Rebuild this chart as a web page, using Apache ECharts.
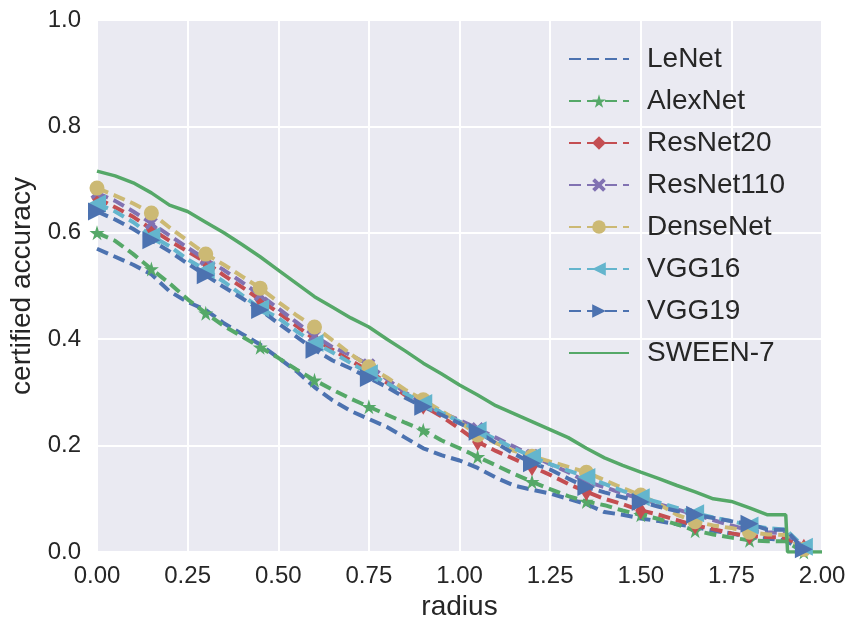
<!DOCTYPE html>
<html>
<head>
<meta charset="utf-8">
<script src="https://cdn.jsdelivr.net/npm/echarts@6/dist/echarts.min.js"></script>
<style>html,body{margin:0;padding:0;background:#fff}#c{width:853px;height:622px}</style>
</head>
<body>
<div id="c"></div>
<script>
// radius grid shared by the dashed (model) curves
var radius = [0,0.05,0.1,0.15,0.2,0.25,0.3,0.35,0.4,0.45,0.5,0.55,0.6,0.65,0.7,0.75,0.8,0.85,0.9,0.95,1.0,1.05,1.1,1.15,1.2,1.25,1.3,1.35,1.4,1.45,1.5,1.55,1.6,1.65,1.7,1.75,1.8,1.85,1.9,1.95];
var lenet    = [0.57,0.555,0.54,0.522,0.49,0.47,0.455,0.43,0.41,0.39,0.365,0.34,0.31,0.285,0.265,0.25,0.235,0.215,0.195,0.182,0.172,0.158,0.14,0.125,0.117,0.11,0.1,0.09,0.075,0.07,0.063,0.058,0.052,0.047,0.04,0.035,0.028,0.025,0.022,0.0];
var alexnet  = [0.60,0.585,0.56,0.532,0.505,0.475,0.449,0.425,0.405,0.385,0.365,0.343,0.323,0.305,0.288,0.273,0.258,0.243,0.229,0.21,0.195,0.179,0.163,0.147,0.132,0.118,0.105,0.095,0.088,0.078,0.07,0.062,0.052,0.04,0.033,0.027,0.022,0.02,0.02,0.0];
var resnet20 = [0.665,0.648,0.63,0.607,0.585,0.565,0.545,0.52,0.498,0.474,0.45,0.425,0.40,0.38,0.36,0.34,0.318,0.295,0.275,0.255,0.232,0.207,0.19,0.175,0.16,0.145,0.128,0.113,0.1,0.09,0.078,0.07,0.06,0.05,0.043,0.035,0.03,0.028,0.027,0.008];
var resnet110= [0.675,0.66,0.64,0.618,0.595,0.572,0.55,0.53,0.507,0.483,0.458,0.432,0.406,0.385,0.37,0.352,0.325,0.30,0.28,0.262,0.248,0.232,0.215,0.198,0.182,0.165,0.15,0.132,0.122,0.11,0.1,0.09,0.08,0.07,0.06,0.05,0.04,0.037,0.035,0.008];
var densenet = [0.684,0.67,0.655,0.637,0.61,0.585,0.56,0.54,0.518,0.496,0.47,0.445,0.423,0.398,0.372,0.348,0.328,0.305,0.286,0.265,0.245,0.22,0.205,0.19,0.18,0.17,0.16,0.15,0.135,0.12,0.107,0.09,0.07,0.057,0.05,0.045,0.037,0.033,0.032,0.005];
var vgg16    = [0.655,0.64,0.62,0.594,0.575,0.55,0.53,0.508,0.483,0.458,0.44,0.415,0.393,0.375,0.355,0.336,0.317,0.298,0.28,0.262,0.245,0.229,0.212,0.195,0.179,0.165,0.153,0.141,0.128,0.115,0.103,0.093,0.083,0.073,0.065,0.058,0.05,0.045,0.042,0.01];
var vgg19    = [0.64,0.625,0.607,0.586,0.565,0.542,0.52,0.498,0.477,0.455,0.43,0.405,0.38,0.36,0.345,0.327,0.31,0.29,0.273,0.258,0.242,0.226,0.205,0.185,0.167,0.155,0.138,0.122,0.112,0.103,0.094,0.085,0.077,0.07,0.064,0.058,0.053,0.042,0.042,0.005];
// SWEEN-7 curve has its own radius grid (sharp drop near 1.9)
var sweenRadius = [0,0.05,0.1,0.15,0.2,0.25,0.3,0.35,0.4,0.45,0.5,0.55,0.6,0.65,0.7,0.75,0.8,0.85,0.9,0.95,1.0,1.05,1.1,1.15,1.2,1.25,1.3,1.35,1.4,1.45,1.5,1.55,1.6,1.65,1.7,1.75,1.8,1.85,1.9,1.905,1.95,2.0];
var sween7 = [0.716,0.707,0.694,0.675,0.652,0.64,0.62,0.60,0.578,0.555,0.53,0.505,0.48,0.46,0.44,0.423,0.40,0.378,0.355,0.335,0.314,0.295,0.275,0.26,0.245,0.23,0.215,0.195,0.177,0.163,0.15,0.138,0.125,0.113,0.10,0.095,0.083,0.07,0.07,0.0,0.0,0.0];

var seriesNames = ['LeNet','AlexNet','ResNet20','ResNet110','DenseNet','VGG16','VGG19','SWEEN-7'];

var STAR = 'path://M50,0 L61,35 L98,35 L68,57 L79,91 L50,70 L21,91 L32,57 L2,35 L39,35 Z';
var XMARK = 'path://M0,20 L20,0 L50,30 L80,0 L100,20 L70,50 L100,80 L80,100 L50,70 L20,100 L0,80 L30,50 Z';

function pts(xs, ys, every) {
  return xs.map(function (x, i) {
    var item = { value: [x, ys[i]] };
    if (!every || i % every !== 0) item.symbol = 'none';
    return item;
  });
}
function dashed(name, ys, color, symbol, size, rotate) {
  return {
    name: name, type: 'line', data: pts(radius, ys, symbol === 'none' ? 0 : 3),
    symbol: symbol, symbolSize: size, symbolRotate: rotate || 0,
    showSymbol: symbol !== 'none', showAllSymbol: true,
    lineStyle: { color: color, width: 4, type: [12, 6] },
    itemStyle: { color: color, borderWidth: 0 },
    emphasis: { disabled: true }, animation: false
  };
}
var font = 'Liberation Sans, Arial, sans-serif';
var txt = '#262626';
var chart = echarts.init(document.getElementById('c'));
chart.setOption({
  backgroundColor: '#ffffff',
  animation: false,
  grid: { left: 97, right: 31, top: 20, bottom: 70, show: true, backgroundColor: '#EAEAF2', borderWidth: 0, containLabel: false, outerBoundsMode: 'none' },
  xAxis: {
    type: 'value', min: 0, max: 2, interval: 0.25,
    name: 'radius', nameLocation: 'middle', nameGap: 41,
    nameTextStyle: { fontSize: 28, color: txt, fontFamily: font },
    axisLine: { show: false }, axisTick: { show: false },
    axisLabel: { fontSize: 24, color: txt, fontFamily: font, margin: 12, formatter: function (v) { return v.toFixed(2); } },
    splitLine: { show: true, lineStyle: { color: '#ffffff', width: 2 } }
  },
  yAxis: {
    type: 'value', min: 0, max: 1, interval: 0.2,
    name: 'certified accuracy', nameLocation: 'middle', nameGap: 55,
    nameTextStyle: { fontSize: 28, color: txt, fontFamily: font },
    axisLine: { show: false }, axisTick: { show: false },
    axisLabel: { fontSize: 24, color: txt, fontFamily: font, margin: 16, formatter: function (v) { return v.toFixed(1); } },
    splitLine: { show: true, lineStyle: { color: '#ffffff', width: 2 } }
  },
  legend: {
    orient: 'vertical', left: 563, top: 39, itemWidth: 60, itemHeight: 17, itemGap: 12,
    textStyle: { fontSize: 28, color: txt, fontFamily: font, lineHeight: 30, padding: [0, 0, 0, 13] },
    data: seriesNames.map(function (n) {
      return (n === 'LeNet' || n === 'SWEEN-7') ? { name: n, itemStyle: { opacity: 0 } } : n;
    })
  },
  series: [
    dashed('LeNet', lenet, '#4C72B0', 'none', 0),
    dashed('AlexNet', alexnet, '#55A868', STAR, 15),
    dashed('ResNet20', resnet20, '#C44E52', 'diamond', [11, 18]),
    dashed('ResNet110', resnet110, '#8172B2', XMARK, 13),
    dashed('DenseNet', densenet, '#CCB974', 'circle', 15),
    dashed('VGG16', vgg16, '#64B5CD', 'triangle', 18, 90),
    dashed('VGG19', vgg19, '#4C72B0', 'triangle', 18, -90),
    {
      name: 'SWEEN-7', type: 'line', data: pts(sweenRadius, sween7, 0),
      symbol: 'none', showSymbol: false,
      lineStyle: { color: '#55A868', width: 3.5 }, itemStyle: { color: '#55A868' },
      emphasis: { disabled: true }, animation: false
    }
  ]
});
</script>
</body>
</html>
